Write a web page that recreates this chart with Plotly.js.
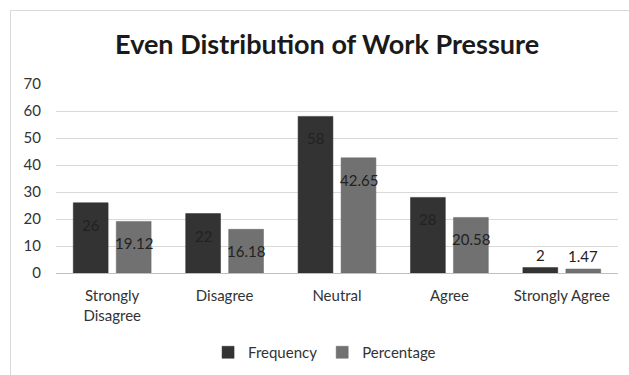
<!DOCTYPE html>
<html><head><meta charset="utf-8">
<script src="https://cdn.plot.ly/plotly-3.0.1.min.js"></script>
<style>
html,body{margin:0;padding:0;background:#fff;}
#wrap{position:relative;width:629px;height:375px;}
#chart{position:absolute;left:0;top:0;width:629px;height:375px;}
#frame{position:absolute;left:10px;top:10px;width:640px;height:400px;border:1px solid #d9d9d9;pointer-events:none;}
</style></head>
<body>
<div id="wrap"><div id="chart"></div><div id="frame"></div></div>
<script>
var categories = ["Strongly<br>Disagree", "Disagree", "Neutral", "Agree", "Strongly Agree"];
var frequency = [26, 22, 58, 28, 2];
var percentage = [19.12, 16.18, 42.65, 20.58, 1.47];
var yTicks = [0, 10, 20, 30, 40, 50, 60, 70];

var font = "Lato, 'Open Sans', sans-serif";
var traces = [
  {type:'bar', name:'Frequency', x:categories, y:frequency, marker:{color:'#333333', line:{color:'#2a2a2a', width:0.5}}, hoverinfo:'skip'},
  {type:'bar', name:'Percentage', x:categories, y:percentage, marker:{color:'#717171', line:{color:'#666', width:0.5}}, hoverinfo:'skip'}
];

var annotations = [];
function addLabels(vals, idx) {
  vals.forEach(function(v, i){
    var big = v > 5;
    annotations.push({
      x: categories[i], y: v, xref:'x', yref:'y',
      text: String(v), showarrow:false,
      xshift: idx === 0 ? -21.5 : 21.5,
      yanchor: big ? 'top' : 'bottom',
      yshift: big ? -11 : 2,
      font:{family:font, size:15, color:'#222'}
    });
  });
}
addLabels(frequency, 0);
addLabels(percentage, 1);

var layout = {
  width:629, height:375,
  margin:{l:56, r:11, t:84, b:102},
  paper_bgcolor:'#fff', plot_bgcolor:'#fff',
  title:{text:'<b>Even Distribution of Work Pressure</b>', x:0.52, xanchor:'center', y:0.88, yanchor:'middle',
         font:{family:font, size:27, color:'#1a1a1a'}},
  barmode:'group', bargap:0.235, bargroupgap:0.19,
  xaxis:{tickvals:categories, ticktext:categories, showgrid:false, zeroline:false, showline:false, automargin:false,
         tickfont:{family:font, size:15, color:'#333'}, ticks:'', ticklabelstandoff:12, fixedrange:true},
  yaxis:{range:[0,70], tickvals:yTicks, ticktext:yTicks.map(String), showgrid:true, gridcolor:'#d9d9d9', gridwidth:1,
         zeroline:true, zerolinecolor:'#bfbfbf', zerolinewidth:1, showline:false, automargin:false,
         tickfont:{family:font, size:15, color:'#333'}, ticks:'', ticklabelstandoff:14, fixedrange:true},
  legend:{orientation:'h', x:0.516, xanchor:'center', xref:'container', yref:'container', y:0.06, yanchor:'middle',
          font:{family:font, size:15, color:'#333'}, itemwidth:30, traceorder:'normal'},
  annotations:annotations,
  showlegend:true
};
Plotly.newPlot('chart', traces, layout, {displayModeBar:false, staticPlot:true});
</script>
</body></html>
